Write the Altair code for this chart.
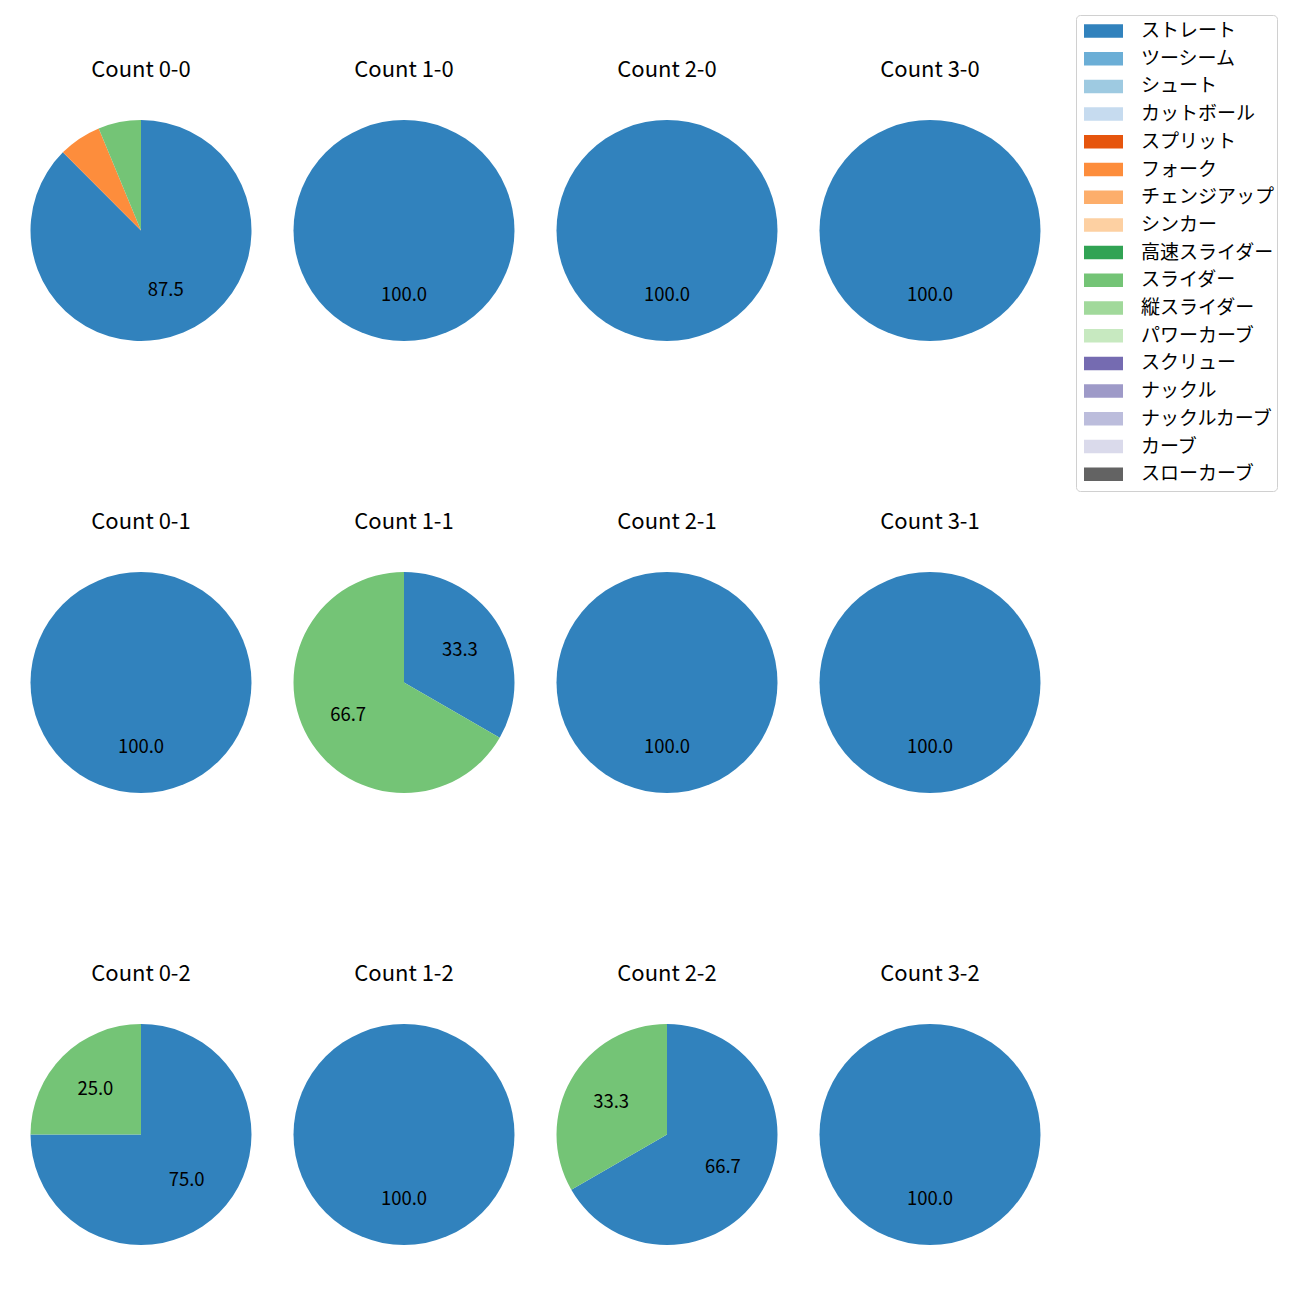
import altair as alt
import pandas as pd

pitch_types = ["ストレート", "ツーシーム", "シュート", "カットボール", "スプリット", "フォーク",
               "チェンジアップ", "シンカー", "高速スライダー", "スライダー", "縦スライダー",
               "パワーカーブ", "スクリュー", "ナックル", "ナックルカーブ", "カーブ", "スローカーブ"]
pitch_colors = ["#3182bd", "#6baed6", "#9ecae1", "#c6dbef", "#e6550d", "#fd8d3c",
                "#fdae6b", "#fdd0a2", "#31a354", "#74c476", "#a1d99b", "#c7e9c0",
                "#756bb1", "#9e9ac8", "#bcbddc", "#dadaeb", "#636363"]

counts = ["Count 0-0", "Count 1-0", "Count 2-0", "Count 3-0",
          "Count 0-1", "Count 1-1", "Count 2-1", "Count 3-1",
          "Count 0-2", "Count 1-2", "Count 2-2", "Count 3-2"]

# pitches thrown per count (pitch type, number of pitches)
count_pitches = {
    "Count 0-0": [("ストレート", 14), ("フォーク", 1), ("スライダー", 1)],
    "Count 1-0": [("ストレート", 1)],
    "Count 2-0": [("ストレート", 1)],
    "Count 3-0": [("ストレート", 1)],
    "Count 0-1": [("ストレート", 1)],
    "Count 1-1": [("ストレート", 1), ("スライダー", 2)],
    "Count 2-1": [("ストレート", 1)],
    "Count 3-1": [("ストレート", 1)],
    "Count 0-2": [("ストレート", 3), ("スライダー", 1)],
    "Count 1-2": [("ストレート", 1)],
    "Count 2-2": [("ストレート", 2), ("スライダー", 1)],
    "Count 3-2": [("ストレート", 1)],
}

rows = []
for c in counts:
    total = sum(n for _, n in count_pitches[c])
    for p, n in count_pitches[c]:
        pct = 100.0 * n / total
        rows.append({"count": c, "pitch": p, "order": pitch_types.index(p),
                     "pct": pct, "label": f"{pct:.1f}" if pct >= 10 else ""})
df = pd.DataFrame(rows)

FONT = "Noto Sans CJK JP"

base = alt.Chart(df).encode(
    theta=alt.Theta("pct:Q", stack=True),
    order=alt.Order("order:Q", sort="ascending"),
)

arcs = base.mark_arc(outerRadius=110.5, stroke=None).encode(
    color=alt.Color("pitch:N",
                    scale=alt.Scale(domain=pitch_types, range=pitch_colors),
                    legend=alt.Legend(title=None)),
)

labels = base.mark_text(radius=64.5, font=FONT, fontSize=18.5, color="black").encode(
    text="label:N"
)

chart = alt.layer(arcs, labels).properties(width=221, height=221).facet(
    facet=alt.Facet("count:N", sort=counts,
                    header=alt.Header(title=None, labelFont=FONT, labelFontSize=22,
                                      labelColor="black", labelPadding=38)),
    columns=4,
    spacing={"row": 170, "column": 42},
).properties(
    padding={"left": 22.5, "top": 6, "right": 5, "bottom": 5}
).configure_view(stroke=None).configure_legend(
    orient="none",
    legendX=1045.5,
    legendY=-105,
    symbolType="M-1,-0.346L1,-0.346L1,0.346L-1,0.346Z",
    symbolSize=1521,
    symbolStrokeWidth=0,
    symbolOffset=5.5,
    labelFont=FONT,
    labelFontSize=19,
    labelColor="black",
    labelOffset=18,
    clipHeight=27,
    rowPadding=0.7,
    padding=2.5,
    strokeColor="#d0d0d0",
    cornerRadius=4,
    fillColor="white",
    labelLimit=300,
)

chart.save("out.html", embed_options={"renderer": "svg", "actions": False})
